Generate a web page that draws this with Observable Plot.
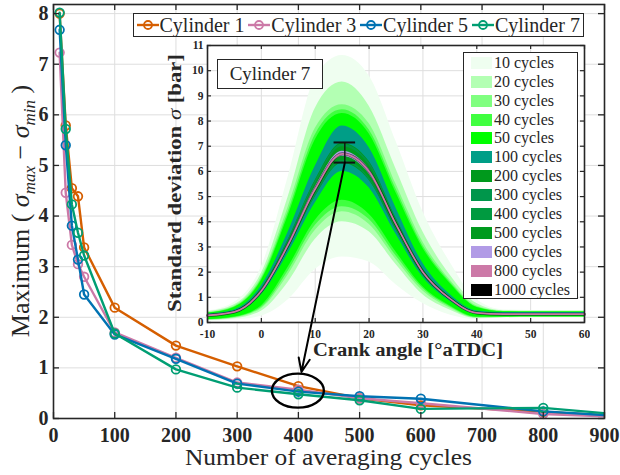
<!DOCTYPE html>
<html><head><meta charset="utf-8">
<script src="https://cdn.jsdelivr.net/npm/d3@7"></script>
<script src="https://cdn.jsdelivr.net/npm/@observablehq/plot@0.6"></script>
<style>
body{margin:0;background:#fff;}
#wrap{position:relative;width:620px;height:475px;overflow:hidden;font-family:'Liberation Serif',serif;color:#262626;}
#wrap > *{position:absolute;}
#wrap svg, #wrap svg text{font-family:'Liberation Serif',serif !important;}
.leg{background:#fff;border:1.3px solid #262626;box-sizing:border-box;}
</style></head><body><div id="wrap"></div>
<script>
// ---------- main chart data ----------
const cycles = [10, 20, 30, 40, 50, 100, 200, 300, 400, 500, 600, 800, 1000];
const cyl1 = [8.00, 5.79, 4.55, 4.39, 3.38, 2.19, 1.44, 1.03, 0.64, 0.40, 0.26, 0.13, 0];
const cyl3 = [7.23, 4.46, 3.43, 3.05, 2.80, 1.70, 1.20, 0.71, 0.57, 0.40, 0.30, 0.09, 0];
const cyl5 = [7.68, 5.40, 3.81, 3.14, 2.45, 1.66, 1.18, 0.69, 0.53, 0.44, 0.39, 0.14, 0];
const cyl7 = [8.02, 5.72, 4.23, 3.67, 3.22, 1.68, 0.97, 0.61, 0.48, 0.36, 0.19, 0.21, 0];
const seriesNames = ["Cylinder 1", "Cylinder 3", "Cylinder 5", "Cylinder 7"];
const seriesValues = [cyl1, cyl3, cyl5, cyl7];
const seriesColors = ["#d55e00", "#cc79a7", "#0072b2", "#009e73"];
const mainXTicks = [0, 100, 200, 300, 400, 500, 600, 700, 800, 900];
const mainYTicks = [0, 1, 2, 3, 4, 5, 6, 7, 8];

// ---------- inset data (Cylinder 7) ----------
const crankAngles = [-10, -5, 0, 5, 10, 15, 20, 25, 30, 35, 40, 45, 50, 55, 60];
const upper10 = [0.45, 0.8, 2.2, 5.8, 9.7, 10.6, 9.8, 7.2, 4.4, 2.4, 0.9, 0.5, 0.48, 0.48, 0.48];
const lower10 = [0.05, 0.1, 0.25, 0.9, 2.1, 2.6, 2.4, 1.5, 0.75, 0.3, 0.12, 0.18, 0.18, 0.18, 0.18];
const upper20 = [0.42, 0.7, 1.95, 5.0, 8.5, 9.55, 8.6, 6.1, 3.6, 1.9, 0.75, 0.46, 0.46, 0.46, 0.46];
const lower20 = [0.08, 0.15, 0.45, 1.6, 3.3, 4.0, 3.6, 2.3, 1.1, 0.5, 0.16, 0.19, 0.2, 0.2, 0.2];
const upper30 = [0.4, 0.65, 1.8, 4.6, 7.7, 8.65, 7.9, 5.5, 3.2, 1.7, 0.66, 0.45, 0.44, 0.44, 0.44];
const lower30 = [0.1, 0.18, 0.55, 1.9, 3.65, 4.4, 3.9, 2.5, 1.25, 0.58, 0.18, 0.2, 0.21, 0.21, 0.21];
const upper40 = [0.38, 0.62, 1.72, 4.4, 7.45, 8.45, 7.65, 5.3, 3.05, 1.62, 0.62, 0.44, 0.43, 0.43, 0.43];
const lower40 = [0.11, 0.2, 0.6, 2.05, 3.85, 4.6, 4.1, 2.65, 1.35, 0.63, 0.2, 0.21, 0.22, 0.22, 0.22];
const upper50 = [0.37, 0.6, 1.66, 4.25, 7.25, 8.3, 7.5, 5.15, 2.95, 1.56, 0.6, 0.43, 0.42, 0.42, 0.42];
const lower50 = [0.12, 0.22, 0.66, 2.2, 4.05, 4.85, 4.3, 2.8, 1.42, 0.67, 0.22, 0.22, 0.23, 0.23, 0.23];
const upper100 = [0.34, 0.5, 1.45, 3.6, 6.2, 7.8, 6.95, 4.55, 2.35, 1.12, 0.46, 0.4, 0.4, 0.4, 0.4];
const lower100 = [0.24, 0.36, 1.1, 2.75, 4.75, 6.0, 5.35, 3.5, 1.8, 0.85, 0.32, 0.27, 0.27, 0.27, 0.27];
const upper200 = [0.31, 0.45, 1.34, 3.3, 5.65, 7.12, 6.4, 4.15, 2.13, 1.02, 0.42, 0.36, 0.36, 0.36, 0.36];
const lower200 = [0.26, 0.39, 1.16, 2.92, 4.98, 6.32, 5.65, 3.67, 1.88, 0.9, 0.35, 0.3, 0.3, 0.3, 0.3];
const upper300 = [0.31, 0.45, 1.33, 3.28, 5.6, 7.08, 6.36, 4.12, 2.12, 1.01, 0.41, 0.36, 0.36, 0.36, 0.36];
const lower300 = [0.26, 0.39, 1.17, 2.93, 5.0, 6.36, 5.68, 3.69, 1.89, 0.9, 0.35, 0.3, 0.3, 0.3, 0.3];
const upper400 = [0.3, 0.44, 1.31, 3.25, 5.55, 7.03, 6.3, 4.08, 2.1, 1.0, 0.41, 0.35, 0.35, 0.35, 0.35];
const lower400 = [0.26, 0.4, 1.19, 2.95, 5.05, 6.4, 5.72, 3.72, 1.9, 0.91, 0.35, 0.31, 0.31, 0.31, 0.31];
const upper500 = [0.3, 0.44, 1.3, 3.22, 5.5, 6.98, 6.25, 4.05, 2.08, 0.99, 0.4, 0.35, 0.35, 0.35, 0.35];
const lower500 = [0.26, 0.4, 1.2, 2.98, 5.1, 6.44, 5.76, 3.75, 1.92, 0.91, 0.36, 0.31, 0.31, 0.31, 0.31];
const upper600 = [0.29, 0.43, 1.28, 3.15, 5.38, 6.8, 6.1, 3.96, 2.03, 0.97, 0.39, 0.34, 0.34, 0.34, 0.34];
const lower600 = [0.27, 0.41, 1.22, 3.05, 5.22, 6.6, 5.9, 3.84, 1.97, 0.93, 0.37, 0.32, 0.32, 0.32, 0.32];
const sigma800 = [0.28, 0.42, 1.25, 3.1, 5.3, 6.7, 6.0, 3.9, 2.0, 0.95, 0.38, 0.33, 0.33, 0.33, 0.33];
const sigma1000 = [0.28, 0.42, 1.25, 3.1, 5.3, 6.7, 6.0, 3.9, 2.0, 0.95, 0.38, 0.33, 0.33, 0.33, 0.33];
const bandCycles = [10, 20, 30, 40, 50, 100, 200, 300, 400, 500, 600];
const bandUpper = [upper10, upper20, upper30, upper40, upper50, upper100, upper200, upper300, upper400, upper500, upper600];
const bandLower = [lower10, lower20, lower30, lower40, lower50, lower100, lower200, lower300, lower400, lower500, lower600];
const legendCycles = [10, 20, 30, 40, 50, 100, 200, 300, 400, 500, 600, 800, 1000];
const legendColors = ["#effef0", "#b3ffb3", "#80ff80", "#40ff40", "#00ff00", "#009e87", "#00991c", "#00964b", "#009a40", "#009a1e", "#b19be6", "#cc79a7", "#000000"];
const insetXTicks = [-10, 0, 10, 20, 30, 40, 50, 60];
const insetYTicks = [0, 1, 2, 3, 4, 5, 6, 7, 8, 9, 10, 11];
const errAngle = 15.5, errLow = 6.35, errHigh = 7.15;
const highlightCycles = 400, highlightSigma = 0.54, arrowTipSigma = 0.92, arrowTipCycles = 405;

// ---------- layout ----------
const FONT = "'Liberation Serif', serif";
const W = 620, H = 475;
const M = {left: 53, right: 16, top: 4, bottom: 57};
const xDom = [0, 900], yDom = [0, 8.18];
const INS = {left: 160, top: 37, width: 430, height: 323, ml: 47, mr: 6, mt: 8, mb: 38};
const inkDark = "#262626", gridCol = "#dedede";
const wrap = document.getElementById("wrap");

const rows = seriesNames.flatMap((name, i) => cycles.map((c, j) => ({name, i, cycles: c, value: seriesValues[i][j]})));

const mainMarks = [
  Plot.gridX(mainXTicks, {stroke: gridCol, strokeOpacity: 1}),
  Plot.gridY(mainYTicks, {stroke: gridCol, strokeOpacity: 1}),
];
seriesNames.forEach((name, i) => {
  const d = rows.filter(r => r.i === i);
  mainMarks.push(Plot.line(d, {x: "cycles", y: "value", stroke: seriesColors[i], strokeWidth: 2.4, clip: true}));
  mainMarks.push(Plot.dot(d.filter(r => r.cycles <= xDom[1]), {x: "cycles", y: "value", r: 4.3, stroke: seriesColors[i], strokeWidth: 1.8, fill: "none"}));
});
const tY = 6 / 50.5, tX = 6 / 0.612;
mainMarks.push(
  Plot.ruleX(mainXTicks, {x: d => d, y1: yDom[0], y2: yDom[0] + tY, stroke: inkDark, strokeWidth: 1.3}),
  Plot.ruleX(mainXTicks, {x: d => d, y1: yDom[1] - tY, y2: yDom[1], stroke: inkDark, strokeWidth: 1.3}),
  Plot.ruleY(mainYTicks, {y: d => d, x1: xDom[0], x2: xDom[0] + tX, stroke: inkDark, strokeWidth: 1.3}),
  Plot.ruleY(mainYTicks, {y: d => d, x1: xDom[1] - tX, x2: xDom[1], stroke: inkDark, strokeWidth: 1.3}),
  Plot.axisX(mainXTicks, {tickSize: 0, tickPadding: 9, label: null, tickFormat: d => String(d)}),
  Plot.axisY(mainYTicks, {tickSize: 0, tickPadding: 5, label: null, tickFormat: d => String(d)}),
  Plot.frame({stroke: inkDark, strokeWidth: 1.6})
);
const main = Plot.plot({
  width: W, height: H,
  marginLeft: M.left, marginRight: M.right, marginTop: M.top, marginBottom: M.bottom,
  x: {domain: xDom}, y: {domain: yDom},
  style: {fontFamily: FONT, fontSize: "20px", fontWeight: "bold", color: inkDark, background: "#fff", overflow: "visible"},
  marks: mainMarks
});
main.style.left = "0px"; main.style.top = "0px";
wrap.appendChild(main);

// ---------- inset ----------
const insetRows = [];
bandCycles.forEach((c, b) => crankAngles.forEach((a, j) => insetRows.push({band: b, angle: a, lo: bandLower[b][j], hi: bandUpper[b][j]})));
const lineRows = crankAngles.map((a, j) => ({angle: a, s800: sigma800[j], s1000: sigma1000[j]}));
const itY = 4 / 25.2, itX = 4 / 5.39;
const insetMarks = [
  Plot.frame({fill: "#fff", stroke: "none"}),
  Plot.gridX(insetXTicks, {stroke: gridCol, strokeOpacity: 1}),
  Plot.gridY(insetYTicks, {stroke: gridCol, strokeOpacity: 1}),
];
bandCycles.forEach((c, b) => {
  insetMarks.push(Plot.areaY(insetRows.filter(r => r.band === b), {x: "angle", y1: "lo", y2: "hi", fill: legendColors[b], fillOpacity: 1, curve: "monotone-x"}));
});
insetMarks.push(
  Plot.line(lineRows, {x: "angle", y: "s1000", stroke: legendColors[12], strokeWidth: 3, strokeOpacity: 0.55, curve: "monotone-x"}),
  Plot.line(lineRows, {x: "angle", y: "s800", stroke: legendColors[11], strokeWidth: 1.7, curve: "monotone-x"}),
  Plot.ruleX([errAngle], {x: d => d, y1: errLow, y2: errHigh, stroke: "#111", strokeWidth: 1.4}),
  Plot.ruleY([errLow, errHigh], {y: d => d, x1: errAngle - 2, x2: errAngle + 2, stroke: "#111", strokeWidth: 2}),
  Plot.ruleX(insetXTicks, {x: d => d, y1: 0, y2: itY, stroke: inkDark, strokeWidth: 1.2}),
  Plot.ruleX(insetXTicks, {x: d => d, y1: 11 - itY, y2: 11, stroke: inkDark, strokeWidth: 1.2}),
  Plot.ruleY(insetYTicks, {y: d => d, x1: -10, x2: -10 + itX, stroke: inkDark, strokeWidth: 1.2}),
  Plot.ruleY(insetYTicks, {y: d => d, x1: 60 - itX, x2: 60, stroke: inkDark, strokeWidth: 1.2}),
  Plot.axisX(insetXTicks, {tickSize: 0, tickPadding: 7, label: null, tickFormat: d => String(d)}),
  Plot.axisY(insetYTicks, {tickSize: 0, tickPadding: 4, label: null, tickFormat: d => String(d)}),
  Plot.frame({stroke: inkDark, strokeWidth: 1.6})
);
const inset = Plot.plot({
  width: INS.width, height: INS.height,
  marginLeft: INS.ml, marginRight: INS.mr, marginTop: INS.mt, marginBottom: INS.mb,
  x: {domain: [-10, 60]}, y: {domain: [0, 11]},
  style: {fontFamily: FONT, fontSize: "11.5px", fontWeight: "bold", color: inkDark, background: "transparent"},
  marks: insetMarks
});
inset.style.left = INS.left + "px"; inset.style.top = INS.top + "px";
wrap.appendChild(inset);

// "Cylinder 7" box
const cbox = document.createElement("div");
cbox.className = "leg";
Object.assign(cbox.style, {left: "217px", top: "59px", width: "106px", height: "30px", border: "1px solid #262626", fontSize: "19px", textAlign: "center", lineHeight: "28px"});
cbox.textContent = "Cylinder 7";
wrap.appendChild(cbox);

// inset legend
const ileg = document.createElement("div");
ileg.className = "leg";
Object.assign(ileg.style, {left: "463px", top: "52px", width: "115px", height: "247px"});
legendCycles.forEach((c, k) => {
  const row = document.createElement("div");
  Object.assign(row.style, {position: "absolute", left: "7px", top: (0.4 + k * 18.9) + "px", height: "18.9px", display: "flex", alignItems: "center", whiteSpace: "nowrap"});
  const sw = document.createElement("span");
  Object.assign(sw.style, {display: "inline-block", width: "21px", height: "12px", background: legendColors[k], marginRight: "2px"});
  const tx = document.createElement("span");
  Object.assign(tx.style, {fontSize: "16px"});
  tx.textContent = c + " cycles";
  row.appendChild(sw); row.appendChild(tx);
  ileg.appendChild(row);
});
wrap.appendChild(ileg);

// main legend
const mleg = document.createElement("div");
mleg.className = "leg";
Object.assign(mleg.style, {left: "133px", top: "13px", width: "451px", height: "24px"});
seriesNames.forEach((name, i) => {
  const ent = document.createElement("div");
  Object.assign(ent.style, {position: "absolute", left: (2.5 + i * 111.8) + "px", top: "0px", height: "22px", display: "flex", alignItems: "center", whiteSpace: "nowrap"});
  ent.innerHTML = `<svg width="22" height="14" style="margin-right:1px"><line x1="0" y1="7" x2="22" y2="7" stroke="${seriesColors[i]}" stroke-width="2.4"/><circle cx="11" cy="7" r="4" fill="none" stroke="${seriesColors[i]}" stroke-width="1.8"/></svg><span style="font-size:20px">${name}</span>`;
  mleg.appendChild(ent);
});
wrap.appendChild(mleg);

// ---------- overlay: arrow, ellipse, axis titles ----------
const sxI = inset.scale("x"), syI = inset.scale("y");
const sxM = main.scale("x"), syM = main.scale("y");
const startPx = INS.left + sxI.apply(errAngle), startPy = INS.top + syI.apply(errLow);
const arrowData = [{x1: sxM.invert(startPx), y1: syM.invert(startPy), x2: arrowTipCycles, y2: arrowTipSigma}];
const overlay = Plot.plot({
  width: W, height: H,
  marginLeft: M.left, marginRight: M.right, marginTop: M.top, marginBottom: M.bottom,
  x: {domain: xDom}, y: {domain: yDom}, axis: null,
  style: {background: "transparent", fontFamily: FONT, color: inkDark, overflow: "visible"},
  marks: [
    Plot.arrow(arrowData, {x1: "x1", y1: "y1", x2: "x2", y2: "y2", stroke: "#000", strokeWidth: 2, headLength: 11, headAngle: 45, insetEnd: 0, insetStart: 0})
  ]
});
overlay.style.left = "0px"; overlay.style.top = "0px"; overlay.style.pointerEvents = "none";
wrap.appendChild(overlay);
const ov = d3.select(overlay);
const sxO = overlay.scale("x"), syO = overlay.scale("y");
ov.append("ellipse").attr("cx", sxO.apply(highlightCycles)).attr("cy", syO.apply(highlightSigma))
  .attr("rx", 26).attr("ry", 17).attr("fill", "none").attr("stroke", "#000").attr("stroke-width", 2.4);

ov.append("text").attr("x", 328.5).attr("y", 465).attr("text-anchor", "middle").attr("font-family", FONT)
  .attr("font-size", 24).attr("fill", inkDark).attr("textLength", 287).attr("lengthAdjust", "spacingAndGlyphs")
  .text("Number of averaging cycles");

const yl = ov.append("text").attr("transform", "translate(29,211) rotate(-90)").attr("text-anchor", "middle").attr("font-family", FONT)
  .attr("font-size", 26).attr("fill", inkDark);
yl.append("tspan").text("Maximum ( ");
yl.append("tspan").attr("font-style", "italic").text("σ");
yl.append("tspan").attr("font-style", "italic").attr("font-size", 17).attr("dy", 6).text("max");
yl.append("tspan").attr("dy", -6).text(" − ");
yl.append("tspan").attr("font-style", "italic").text("σ");
yl.append("tspan").attr("font-style", "italic").attr("font-size", 17).attr("dy", 6).text("min");
yl.append("tspan").attr("dy", -6).text(" )");

const il = ov.append("text").attr("transform", "translate(181,183) rotate(-90)").attr("text-anchor", "middle").attr("font-family", FONT)
  .attr("font-size", 18.5).attr("font-weight", "bold").attr("fill", inkDark).attr("textLength", 258).attr("lengthAdjust", "spacingAndGlyphs");
il.append("tspan").text("Standard deviation ");
il.append("tspan").attr("font-style", "italic").attr("font-weight", "normal").text("σ");
il.append("tspan").text(" [bar]");

ov.append("text").attr("x", 408).attr("y", 356).attr("text-anchor", "middle").attr("font-family", FONT)
  .attr("font-size", 18).attr("font-weight", "bold").attr("fill", inkDark).attr("textLength", 190).attr("lengthAdjust", "spacingAndGlyphs")
  .text("Crank angle [°aTDC]");
</script></body></html>
